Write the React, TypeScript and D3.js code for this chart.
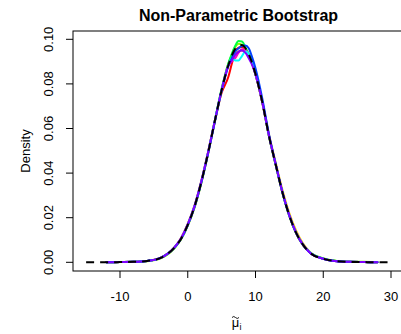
import React from "react";
import * as d3 from "d3";

// True density (black dashed)
const trueX = [-15, -12, -10, -8, -6, -4, -2, -1, 0, 1, 2, 3, 4, 5, 6, 7, 7.5, 8, 8.5, 9, 10, 11, 12, 13, 14, 15, 16, 17, 18, 20, 22, 24, 26, 28, 30];
const trueY = [0.0, 0.0, 0.0001, 0.0002, 0.0006, 0.002, 0.0065, 0.0105, 0.0168, 0.025, 0.036, 0.049, 0.0634, 0.0772, 0.0885, 0.0957, 0.0972, 0.0974, 0.0961, 0.0934, 0.0844, 0.0719, 0.0565, 0.0436, 0.0311, 0.0209, 0.0132, 0.0079, 0.0044, 0.0016, 0.0005, 0.0002, 0.0001, 0.0, 0.0];

// Bootstrap densities (coloured)
const bootX = [-12, -10, -8, -6, -4, -2, -1, 0, 1, 2, 3, 4, 5, 6, 6.5, 7, 7.5, 8, 8.5, 9, 9.5, 10, 11, 12, 13, 14, 15, 16, 17, 18, 20, 22, 24, 26, 28];
const bootRed = [0.0, 0.0001, 0.0002, 0.0006, 0.0021, 0.0066, 0.0108, 0.0172, 0.0255, 0.0365, 0.0495, 0.0636, 0.076, 0.0832, 0.089, 0.0945, 0.0962, 0.0965, 0.0955, 0.093, 0.0892, 0.0842, 0.0716, 0.0565, 0.0435, 0.031, 0.0208, 0.0131, 0.0078, 0.0044, 0.0016, 0.0005, 0.0002, 0.0001, 0.0];
const bootOrange = [0.0, 0.0001, 0.0002, 0.0006, 0.0019, 0.0063, 0.0103, 0.0165, 0.0246, 0.0356, 0.0487, 0.063, 0.0768, 0.089, 0.0925, 0.094, 0.0945, 0.095, 0.0945, 0.0925, 0.089, 0.0843, 0.0722, 0.0572, 0.0445, 0.0322, 0.022, 0.0142, 0.0085, 0.0047, 0.0017, 0.0006, 0.0002, 0.0001, 0.0];
const bootYellow = [0.0, 0.0001, 0.0002, 0.0005, 0.0018, 0.0062, 0.0102, 0.0164, 0.0246, 0.0356, 0.0488, 0.0633, 0.0775, 0.089, 0.093, 0.0965, 0.098, 0.0975, 0.096, 0.0932, 0.0893, 0.0843, 0.0718, 0.0564, 0.0434, 0.0309, 0.0207, 0.013, 0.0078, 0.0045, 0.0017, 0.0006, 0.0003, 0.0002, 0.0001];
const bootGreen = [0.0, 0.0001, 0.0002, 0.0006, 0.002, 0.0064, 0.0104, 0.0167, 0.0249, 0.0359, 0.0491, 0.0636, 0.0778, 0.0892, 0.0935, 0.097, 0.0992, 0.099, 0.0965, 0.0932, 0.0892, 0.0842, 0.0717, 0.0563, 0.0434, 0.031, 0.0208, 0.0131, 0.0079, 0.0045, 0.0017, 0.0006, 0.0002, 0.0001, 0.0];
const bootMagenta = [0.0, 0.0001, 0.0002, 0.0006, 0.002, 0.0065, 0.0106, 0.0169, 0.0251, 0.0361, 0.0491, 0.0634, 0.0772, 0.0884, 0.09, 0.0915, 0.094, 0.0955, 0.095, 0.093, 0.0892, 0.0843, 0.0718, 0.0565, 0.0436, 0.0311, 0.0209, 0.0132, 0.0079, 0.0044, 0.0016, 0.0005, 0.0002, 0.0001, 0.0];
const bootCyan = [0.0, 0.0001, 0.0002, 0.0006, 0.002, 0.0066, 0.0106, 0.017, 0.0252, 0.0362, 0.0492, 0.0635, 0.0773, 0.0884, 0.0915, 0.0905, 0.0905, 0.0925, 0.0945, 0.0935, 0.09, 0.0848, 0.0722, 0.0568, 0.0438, 0.0312, 0.021, 0.0133, 0.008, 0.0045, 0.0016, 0.0005, 0.0002, 0.0001, 0.0];
const bootBlue = [0.0, 0.0001, 0.0002, 0.0006, 0.002, 0.0064, 0.0104, 0.0166, 0.0248, 0.0357, 0.0487, 0.063, 0.0768, 0.088, 0.0915, 0.0945, 0.096, 0.097, 0.0972, 0.096, 0.092, 0.087, 0.0735, 0.0572, 0.0438, 0.0311, 0.0208, 0.0131, 0.0078, 0.0044, 0.0016, 0.0005, 0.0002, 0.0001, 0.0];
const bootPurple = [0.0, 0.0001, 0.0002, 0.0006, 0.002, 0.0066, 0.0107, 0.017, 0.0252, 0.0362, 0.0492, 0.0635, 0.0773, 0.0882, 0.0905, 0.093, 0.0945, 0.095, 0.094, 0.0915, 0.0885, 0.0842, 0.0718, 0.0566, 0.0437, 0.0312, 0.021, 0.0132, 0.0079, 0.0044, 0.0016, 0.0005, 0.0002, 0.0001, 0.0];

const bootSeries = [bootRed, bootOrange, bootYellow, bootGreen, bootMagenta, bootCyan, bootBlue, bootPurple];
const bootColors = ["#FF0000", "#FFBF00", "#80FF00", "#00FF40", "#FF00BF", "#00FFFF", "#0040FF", "#8000FF"];

const xTicks = [-10, 0, 10, 20, 30];
const yTicks = [0, 0.02, 0.04, 0.06, 0.08, 0.1];
const yTickLabels = ["0.00", "0.02", "0.04", "0.06", "0.08", "0.10"];

export default function App() {
  const W = 401, H = 334;
  const box = { left: 73, right: 404, top: 31, bottom: 271 };
  const x = d3.scaleLinear().domain([-10, 30]).range([120, 391]);
  const y = d3.scaleLinear().domain([0, 0.1]).range([262.3, 39.3]);
  const line = (xs: number[]) =>
    d3.line<number>().x((_, i) => x(xs[i])).y((v) => y(v)).curve(d3.curveMonotoneX);
  const font = "'Liberation Sans', Arial, Helvetica, sans-serif";
  const cx = (box.left + box.right) / 2;
  const cy = (box.top + box.bottom) / 2;
  const mx = cx - 3;
  return (
    <svg width={W} height={H} style={{ position: "absolute", left: 0, top: 0 }} fontFamily={font}>
      <rect width={W} height={H} fill="white" />
      <defs>
        <clipPath id="plotclip">
          <rect x={box.left} y={box.top} width={box.right - box.left} height={box.bottom - box.top} />
        </clipPath>
      </defs>
      <g clipPath="url(#plotclip)">
        {bootSeries.map((s, k) => (
          <path key={k} d={line(bootX)(s) || ""} fill="none" stroke={bootColors[k]} strokeWidth={2} strokeLinejoin="round" strokeLinecap="round" />
        ))}
        <path d={line(trueX)(trueY) || ""} fill="none" stroke="black" strokeWidth={2} strokeDasharray="8,6" />
      </g>
      <rect x={box.left} y={box.top} width={box.right - box.left} height={box.bottom - box.top} fill="none" stroke="black" strokeWidth={1} />
      {xTicks.map((t) => (
        <g key={t}>
          <line x1={x(t)} x2={x(t)} y1={box.bottom} y2={box.bottom + 7} stroke="black" />
          <text x={x(t)} y={box.bottom + 30} textAnchor="middle" fontSize={13}>{t}</text>
        </g>
      ))}
      {yTicks.map((t, i) => (
        <g key={t}>
          <line x1={box.left - 7} x2={box.left} y1={y(t)} y2={y(t)} stroke="black" />
          <text transform={`translate(${box.left - 20},${y(t)}) rotate(-90)`} textAnchor="middle" fontSize={13}>{yTickLabels[i]}</text>
        </g>
      ))}
      <text transform={`translate(30,${cy}) rotate(-90)`} textAnchor="middle" fontSize={13}>Density</text>
      <text x={mx} y={327} textAnchor="middle" fontSize={13}>{"\u03BC"}</text>
      <path d={`M${mx - 3.5},317.5 q1.75,-2 3.5,0 t3.5,0`} fill="none" stroke="black" strokeWidth={0.9} />
      <text x={mx + 4} y={330} textAnchor="start" fontSize={9}>i</text>
      <text x={cx} y={21} textAnchor="middle" fontSize={16} fontWeight="bold">Non-Parametric Bootstrap</text>
    </svg>
  );
}
